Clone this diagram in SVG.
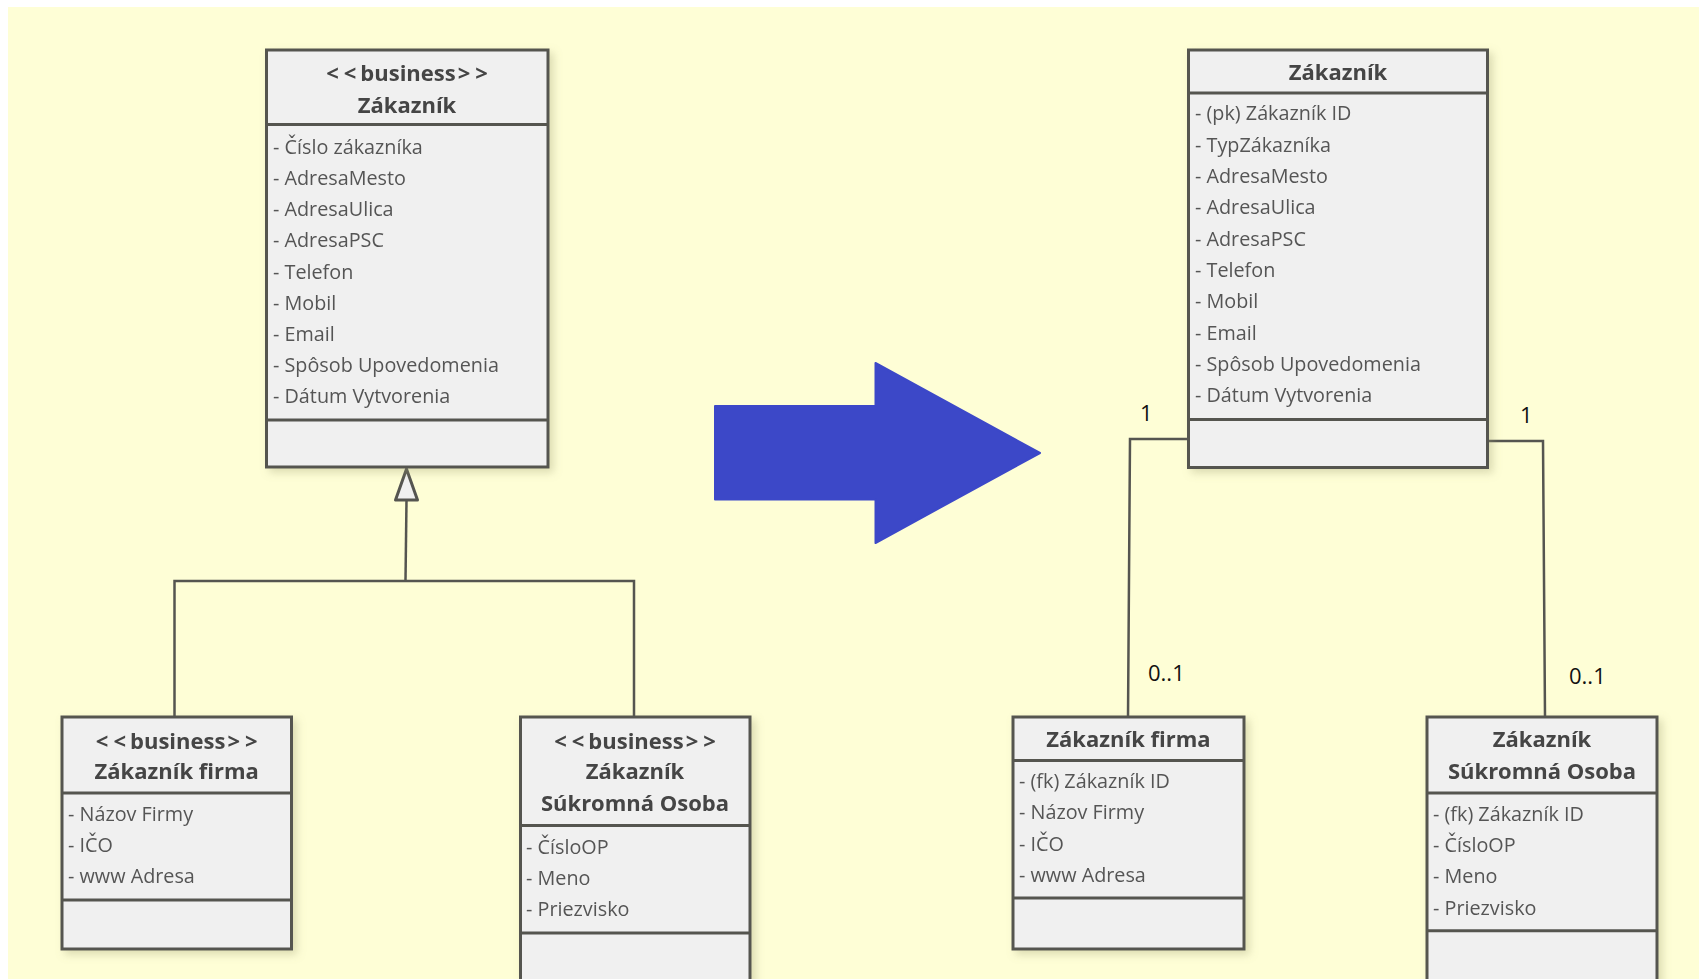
<svg xmlns="http://www.w3.org/2000/svg" width="1699" height="979" viewBox="0 0 1699 979">
<defs>
<style>
.box{fill:#f0f0f0;stroke:#555550;stroke-width:3}
.div{stroke:#555550;stroke-width:3}
.ttl{font-family:"Open Sans","Noto Sans",sans-serif;font-weight:bold;font-size:22px;fill:#444444;text-anchor:middle}
.att{font-family:"Open Sans","Noto Sans",sans-serif;font-size:19.8px;fill:#555555}
.lbl{font-family:"Open Sans","Noto Sans",sans-serif;font-size:22px;fill:#111111}
.con{fill:none;stroke:#555550;stroke-width:2.5}
</style>
<filter id="sh" x="-10%" y="-10%" width="130%" height="130%">
<feDropShadow dx="4" dy="4" stdDeviation="4" flood-color="#9a9a70" flood-opacity="0.35"/>
</filter>
</defs>
<rect x="0" y="0" width="1699" height="979" fill="#ffffff"/>
<rect x="8" y="7" width="1691" height="972" fill="#fefed6"/>

<g id="connectors">
<polygon points="406.5,469 395.5,500 417.5,500" fill="#f0f0f0" stroke="#555550" stroke-width="3" stroke-linejoin="round"/>
<polyline class="con" points="406.5,500 405.5,581"/>
<polyline class="con" points="174.5,717 174.5,581 634,581 634,717"/>
<polyline class="con" points="1188.5,439 1130,439 1128,717"/>
<polyline class="con" points="1487.5,441 1543,441 1545,717"/>
<text class="lbl" x="1140" y="421">1</text>
<text class="lbl" x="1520" y="423">1</text>
<text class="lbl" x="1148" y="681">0..1</text>
<text class="lbl" x="1569" y="684">0..1</text>
</g>

<g id="bigArrow">
<path d="M715,406 L875.5,406 L875.5,363 L1040,453 L875.5,543 L875.5,499.5 L715,499.5 Z" fill="#3c48c8" stroke="#3c48c8" stroke-width="2" stroke-linejoin="round"/>
</g>

<g id="L1" filter="url(#sh)">
<rect class="box" x="266.5" y="50" width="281.5" height="417"/>
<line class="div" x1="266.5" y1="124.6" x2="548" y2="124.6"/>
<line class="div" x1="266.5" y1="420" x2="548" y2="420"/>
<text class="ttl" x="407" y="81">&lt;<tspan dx="5">&lt;</tspan><tspan dx="4">business</tspan><tspan dx="2">&gt;</tspan><tspan dx="5">&gt;</tspan></text>
<text class="ttl" x="407" y="113">Zákazník</text>
<text class="att" x="273" y="154">- Číslo zákazníka</text>
<text class="att" x="273" y="185">- AdresaMesto</text>
<text class="att" x="273" y="216">- AdresaUlica</text>
<text class="att" x="273" y="247">- AdresaPSC</text>
<text class="att" x="273" y="279">- Telefon</text>
<text class="att" x="273" y="310">- Mobil</text>
<text class="att" x="273" y="341">- Email</text>
<text class="att" x="273" y="372">- Spôsob Upovedomenia</text>
<text class="att" x="273" y="403">- Dátum Vytvorenia</text>
</g>

<g id="L2" filter="url(#sh)">
<rect class="box" x="62" y="717" width="229.5" height="232"/>
<line class="div" x1="62" y1="793" x2="291.5" y2="793"/>
<line class="div" x1="62" y1="900" x2="291.5" y2="900"/>
<text class="ttl" x="176.7" y="749">&lt;<tspan dx="5">&lt;</tspan><tspan dx="4">business</tspan><tspan dx="2">&gt;</tspan><tspan dx="5">&gt;</tspan></text>
<text class="ttl" x="176.7" y="779">Zákazník firma</text>
<text class="att" x="68" y="821">- Názov Firmy</text>
<text class="att" x="68" y="852">- IČO</text>
<text class="att" x="68" y="883">- www Adresa</text>
</g>

<g id="L3" filter="url(#sh)">
<rect class="box" x="520.5" y="717" width="229.5" height="290"/>
<line class="div" x1="520.5" y1="825.6" x2="750" y2="825.6"/>
<line class="div" x1="520.5" y1="933" x2="750" y2="933"/>
<text class="ttl" x="635" y="749">&lt;<tspan dx="5">&lt;</tspan><tspan dx="4">business</tspan><tspan dx="2">&gt;</tspan><tspan dx="5">&gt;</tspan></text>
<text class="ttl" x="635" y="779">Zákazník</text>
<text class="ttl" x="635" y="810.5">Súkromná Osoba</text>
<text class="att" x="526" y="854">- ČísloOP</text>
<text class="att" x="526" y="884.5">- Meno</text>
<text class="att" x="526" y="916">- Priezvisko</text>
</g>

<g id="R1" filter="url(#sh)">
<rect class="box" x="1188.5" y="50" width="299" height="417.5"/>
<line class="div" x1="1188.5" y1="93" x2="1487.5" y2="93"/>
<line class="div" x1="1188.5" y1="419.5" x2="1487.5" y2="419.5"/>
<text class="ttl" x="1338" y="80">Zákazník</text>
<text class="att" x="1195" y="120">- (pk) Zákazník ID</text>
<text class="att" x="1195" y="151.5">- TypZákazníka</text>
<text class="att" x="1195" y="183">- AdresaMesto</text>
<text class="att" x="1195" y="214">- AdresaUlica</text>
<text class="att" x="1195" y="245.5">- AdresaPSC</text>
<text class="att" x="1195" y="277">- Telefon</text>
<text class="att" x="1195" y="308">- Mobil</text>
<text class="att" x="1195" y="339.5">- Email</text>
<text class="att" x="1195" y="371">- Spôsob Upovedomenia</text>
<text class="att" x="1195" y="402">- Dátum Vytvorenia</text>
</g>

<g id="R2" filter="url(#sh)">
<rect class="box" x="1013" y="717" width="231" height="232"/>
<line class="div" x1="1013" y1="760.6" x2="1244" y2="760.6"/>
<line class="div" x1="1013" y1="898" x2="1244" y2="898"/>
<text class="ttl" x="1128.5" y="747">Zákazník firma</text>
<text class="att" x="1019" y="788">- (fk) Zákazník ID</text>
<text class="att" x="1019" y="819">- Názov Firmy</text>
<text class="att" x="1019" y="850.5">- IČO</text>
<text class="att" x="1019" y="882">- www Adresa</text>
</g>

<g id="R3" filter="url(#sh)">
<rect class="box" x="1427" y="717" width="230" height="290"/>
<line class="div" x1="1427" y1="793" x2="1657" y2="793"/>
<line class="div" x1="1427" y1="930.7" x2="1657" y2="930.7"/>
<text class="ttl" x="1542" y="747">Zákazník</text>
<text class="ttl" x="1542" y="778.5">Súkromná Osoba</text>
<text class="att" x="1433" y="821">- (fk) Zákazník ID</text>
<text class="att" x="1433" y="852">- ČísloOP</text>
<text class="att" x="1433" y="883">- Meno</text>
<text class="att" x="1433" y="914.5">- Priezvisko</text>
</g>
</svg>
